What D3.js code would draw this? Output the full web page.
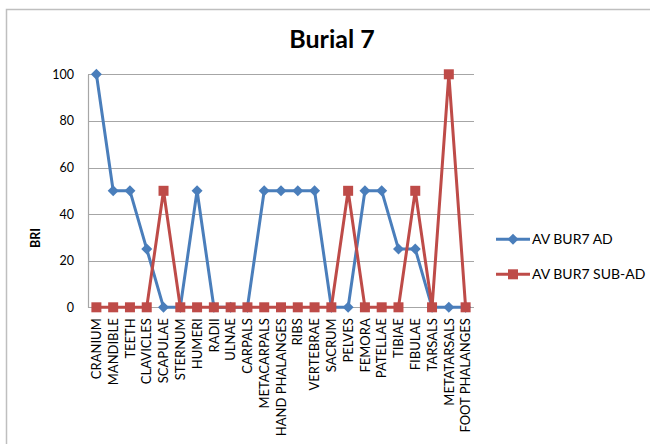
<!DOCTYPE html>
<html>
<head>
<meta charset="utf-8">
<script src="https://cdn.jsdelivr.net/npm/d3@7"></script>
<style>
  html, body { margin: 0; padding: 0; background: #fff; }
  svg { display: block; font-family: Lato, "Open Sans", sans-serif; }
</style>
</head>
<body>
<svg id="chart" width="650" height="444"></svg>
<script>
const title = "Burial 7";
const yLabel = "BRI";
const categories = ["CRANIUM","MANDIBLE","TEETH","CLAVICLES","SCAPULAE","STERNUM","HUMERI","RADII","ULNAE","CARPALS","METACARPALS","HAND PHALANGES","RIBS","VERTEBRAE","SACRUM","PELVES","FEMORA","PATELLAE","TIBIAE","FIBULAE","TARSALS","METATARSALS","FOOT PHALANGES"];
const seriesNames = ["AV BUR7 AD", "AV BUR7 SUB-AD"];
const adValues    = [100,50,50,25,0,0,50,0,0,0,50,50,50,50,0,0,50,50,25,25,0,0,0];
const subAdValues = [0,0,0,0,50,0,0,0,0,0,0,0,0,0,0,50,0,0,0,50,0,100,0];
const yTicks = [0,20,40,60,80,100];
const colors = ["#4A7EBB", "#BE4B48"];

const svg = d3.select("#chart");

// outer chart border
svg.append("path")
  .attr("d", "M6.5,444 L6.5,9.5 L650,9.5")
  .attr("fill", "none").attr("stroke", "#bfbfbf").attr("stroke-width", 1.5);

const plotLeft = 88, plotRight = 474, plotTop = 74.3, plotBottom = 307.3;

const x = d3.scaleBand().domain(categories).range([plotLeft, plotRight]);
const y = d3.scaleLinear().domain([0, 100]).range([plotBottom, plotTop]);
const cx = d => x(d) + x.bandwidth() / 2;

// title
svg.append("text").attr("x", 332).attr("y", 48)
  .attr("text-anchor", "middle").attr("font-size", 25).attr("font-weight", "bold")
  .attr("fill", "#000").text(title);

// gridlines
svg.append("g").selectAll("line").data(yTicks).join("line")
  .attr("x1", plotLeft).attr("x2", plotRight)
  .attr("y1", d => Math.round(y(d)) + 0.5).attr("y2", d => Math.round(y(d)) + 0.5)
  .attr("stroke", "#a6a6a6").attr("stroke-width", 1.2);

// y axis
const yAxis = d3.axisLeft(y).tickValues(yTicks).tickSize(0).tickPadding(14);
const gy = svg.append("g").attr("transform", `translate(${plotLeft},0)`).call(yAxis);
gy.select(".domain").attr("stroke", "#a6a6a6").attr("stroke-width", 1.2);
gy.selectAll("text").attr("font-size", 12.5).attr("fill", "#000").attr("font-family", "Lato, sans-serif");

// x axis labels
const xAxis = d3.axisBottom(x).tickSize(0).tickPadding(0);
const gx = svg.append("g").attr("transform", `translate(0,${plotBottom})`).call(xAxis);
gx.select(".domain").remove();
gx.selectAll("text")
  .attr("font-size", 13).attr("fill", "#000").attr("font-family", "Lato, sans-serif")
  .attr("text-anchor", "end")
  .attr("transform", "rotate(-90)")
  .attr("x", -11).attr("y", 0).attr("dy", "0.36em");

// y label
svg.append("text")
  .attr("transform", "translate(36,238) rotate(-90)")
  .attr("text-anchor", "middle").attr("dy", "0.35em")
  .attr("font-size", 12.5).attr("font-weight", "bold").attr("fill", "#000")
  .text(yLabel);

const line = d3.line().x(d => cx(d.c)).y(d => y(d.v));
const data = [adValues, subAdValues].map(vals => categories.map((c, i) => ({c, v: vals[i]})));

function drawDiamond(g, px, py, r, col) {
  g.append("path").attr("d", `M${px},${py - r}L${px + r},${py}L${px},${py + r}L${px - r},${py}Z`).attr("fill", col);
}
function drawSquare(g, px, py, s, col) {
  g.append("rect").attr("x", px - s / 2).attr("y", py - s / 2).attr("width", s).attr("height", s).attr("fill", col);
}

data.forEach((ser, si) => {
  const g = svg.append("g");
  g.append("path").datum(ser).attr("d", line)
    .attr("fill", "none").attr("stroke", colors[si]).attr("stroke-width", 3).attr("stroke-linejoin", "round");
  ser.forEach(d => {
    if (si === 0) drawDiamond(g, cx(d.c), y(d.v), 5.5, colors[si]);
    else drawSquare(g, cx(d.c), y(d.v), 10, colors[si]);
  });
});

// legend
const legendY = [239.3, 274.3];
seriesNames.forEach((name, i) => {
  const g = svg.append("g");
  g.append("line").attr("x1", 496).attr("x2", 530).attr("y1", legendY[i]).attr("y2", legendY[i])
    .attr("stroke", colors[i]).attr("stroke-width", 3);
  if (i === 0) drawDiamond(g, 513, legendY[i], 5.5, colors[i]);
  else drawSquare(g, 513, legendY[i], 10, colors[i]);
  g.append("text").attr("x", 532).attr("y", legendY[i]).attr("dy", "0.36em")
    .attr("font-size", 14).attr("fill", "#000").text(name);
});
</script>
</body>
</html>
